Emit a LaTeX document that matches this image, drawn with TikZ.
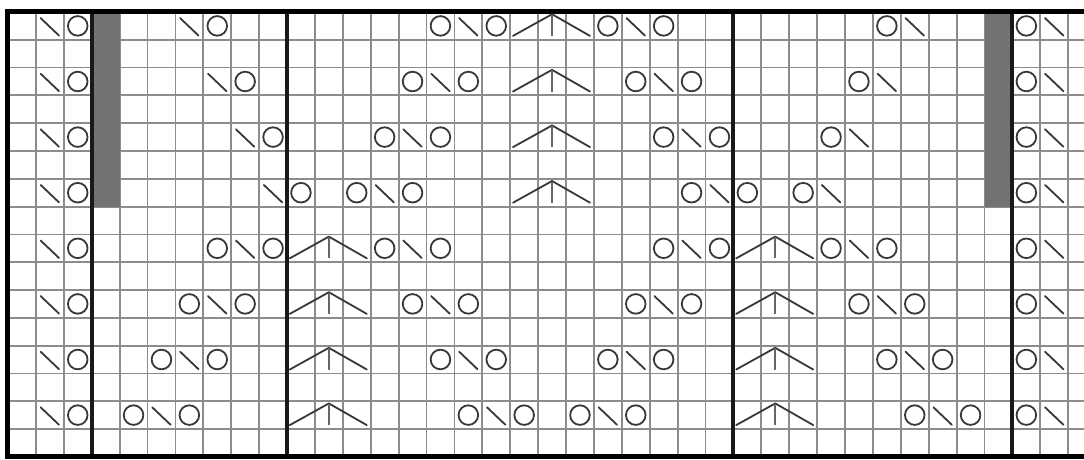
\documentclass[tikz,border=0pt]{standalone}
\tikzset{
  gridline/.style={draw=black!45, line width=1.8pt},
  rulefrm/.style={draw=black, line width=5pt, line join=miter},
  rulediv/.style={draw=black!90, line width=4pt},
  sym/.style={draw=black!78, line width=1.8pt, line cap=round, line join=round},
  barfill/.style={fill=black!55}
}
\newcommand\kyo[2]{\draw[sym] ({#1+0.5},{#2+0.5}) circle[radius=9.8pt];}
\newcommand\kssk[2]{\draw[sym] ({#1+0.17},{#2+0.22}) -- ({#1+0.83},{#2+0.85});}
\newcommand\kcdd[2]{\draw[sym] ({#1+0.1},{#2+0.86}) -- ({#1+1.5},{#2+0.08}) -- ({#1+2.86},{#2+0.86});
  \draw[sym, draw=black!60, line width=2.2pt, line cap=butt] ({#1+1.5},{#2+0.1}) -- ({#1+1.5},{#2+0.86});}
\begin{document}
\begin{tikzpicture}[x=27.9pt,y=-27.8pt]
\useasboundingbox (-8pt,12pt) rectangle (1076pt,-448pt);
\clip (-8pt,12pt) rectangle (1076pt,-448pt);
\fill[white] (-8pt,12pt) rectangle (1076pt,-448pt);
% grid
\foreach \k in {1,...,38} \draw[gridline] (\k,0) -- (\k,16);
\foreach \j in {1,...,15} \draw[gridline] (0,\j) -- (39,\j);
% grey bars
\fill[barfill] (3,0) rectangle (4,7);
\fill[barfill] (35,0) rectangle (36,7);
% dividers
\foreach \k in {3,10,26,36} \draw[rulediv] (\k,0) -- (\k,16);
% frame
\draw[rulefrm] (39,0) -- (0,0) -- (0,16) -- (39,16);
% edge stitches on every pattern row
\foreach \r in {0,2,...,14} {\kssk{1}{\r} \kyo{2}{\r} \kyo{36}{\r} \kssk{37}{\r}}
% row 0
\kssk{6}{0} \kyo{7}{0}
\kyo{15}{0} \kssk{16}{0} \kyo{17}{0} \kcdd{18}{0}
\kyo{21}{0} \kssk{22}{0} \kyo{23}{0}
\kyo{31}{0} \kssk{32}{0}
% row 2
\kssk{7}{2} \kyo{8}{2}
\kyo{14}{2} \kssk{15}{2} \kyo{16}{2} \kcdd{18}{2}
\kyo{22}{2} \kssk{23}{2} \kyo{24}{2}
\kyo{30}{2} \kssk{31}{2}
% row 4
\kssk{8}{4} \kyo{9}{4}
\kyo{13}{4} \kssk{14}{4} \kyo{15}{4} \kcdd{18}{4}
\kyo{23}{4} \kssk{24}{4} \kyo{25}{4}
\kyo{29}{4} \kssk{30}{4}
% row 6
\kssk{9}{6} \kyo{10}{6}
\kyo{12}{6} \kssk{13}{6} \kyo{14}{6} \kcdd{18}{6}
\kyo{24}{6} \kssk{25}{6} \kyo{26}{6}
\kyo{28}{6} \kssk{29}{6}
% row 8
\kyo{7}{8} \kssk{8}{8} \kyo{9}{8} \kcdd{10}{8}
\kyo{13}{8} \kssk{14}{8} \kyo{15}{8}
\kyo{23}{8} \kssk{24}{8} \kyo{25}{8} \kcdd{26}{8}
\kyo{29}{8} \kssk{30}{8} \kyo{31}{8}
% row 10
\kyo{6}{10} \kssk{7}{10} \kyo{8}{10} \kcdd{10}{10}
\kyo{14}{10} \kssk{15}{10} \kyo{16}{10}
\kyo{22}{10} \kssk{23}{10} \kyo{24}{10} \kcdd{26}{10}
\kyo{30}{10} \kssk{31}{10} \kyo{32}{10}
% row 12
\kyo{5}{12} \kssk{6}{12} \kyo{7}{12} \kcdd{10}{12}
\kyo{15}{12} \kssk{16}{12} \kyo{17}{12}
\kyo{21}{12} \kssk{22}{12} \kyo{23}{12} \kcdd{26}{12}
\kyo{31}{12} \kssk{32}{12} \kyo{33}{12}
% row 14
\kyo{4}{14} \kssk{5}{14} \kyo{6}{14} \kcdd{10}{14}
\kyo{16}{14} \kssk{17}{14} \kyo{18}{14}
\kyo{20}{14} \kssk{21}{14} \kyo{22}{14} \kcdd{26}{14}
\kyo{32}{14} \kssk{33}{14} \kyo{34}{14}
\end{tikzpicture}
\end{document}
